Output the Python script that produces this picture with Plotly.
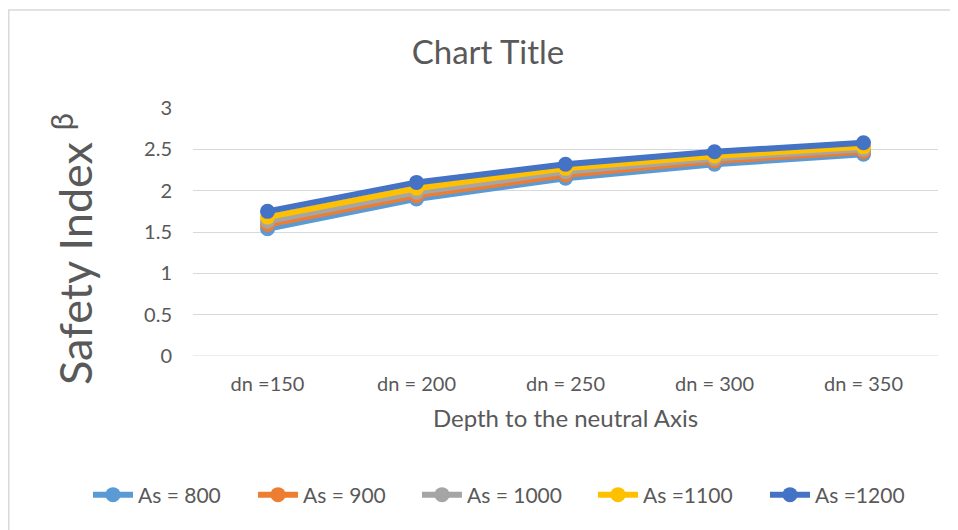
import plotly.graph_objects as go

# data
categories = ["dn =150", "dn = 200", "dn = 250", "dn = 300", "dn = 350"]
series_names = ["As = 800", "As = 900", "As = 1000", "As =1100", "As =1200"]
as_800 = [1.54, 1.90, 2.15, 2.32, 2.44]
as_900 = [1.59, 1.94, 2.19, 2.36, 2.47]
as_1000 = [1.63, 1.98, 2.23, 2.39, 2.50]
as_1100 = [1.68, 2.03, 2.27, 2.42, 2.53]
as_1200 = [1.75, 2.10, 2.32, 2.47, 2.58]
y_ticks = [0, 0.5, 1, 1.5, 2, 2.5, 3]

colors = ["#5B9BD5", "#ED7D31", "#A5A5A5", "#FFC000", "#4472C4"]
FONT = "Lato, 'Open Sans', sans-serif"
GREY = "#595959"

# page has an 8px body margin, so the figure is a bit smaller than the window
W, H = 950, 522
L, R, T, B = 185, 20, 100, 174
pw, ph = W - L - R, H - T - B

# one legend per series so each entry can sit where Excel put it
legend_ids = ["legend", "legend2", "legend3", "legend4", "legend5"]
legend_x = [80, 245, 409, 585, 757]

fig = go.Figure()
for name, vals, col, lid in zip(series_names, [as_800, as_900, as_1000, as_1100, as_1200], colors, legend_ids):
    fig.add_trace(go.Scatter(
        x=list(range(len(categories))), y=vals, name=name, mode="lines+markers",
        line=dict(color=col, width=6), marker=dict(color=col, size=15), legend=lid,
    ))

# light grey frame around the chart object
fig.add_shape(type="rect", xref="paper", yref="paper",
              x0=(0.75 - L) / pw, x1=(W + 20 - L) / pw,
              y0=-(B + 20) / ph, y1=(H - B - 2) / ph,
              line=dict(color="#D9D9D9", width=1.5), fillcolor="rgba(0,0,0,0)", layer="below")

# y axis title as an annotation so it can sit a little below the plot centre
fig.add_annotation(text="Safety Index <sup>β</sup>", textangle=-90,
                   xref="paper", yref="paper", x=(64 - L) / pw, y=(H - B - 241) / ph,
                   xanchor="center", yanchor="middle", showarrow=False,
                   font=dict(size=45, color=GREY, family=FONT))

fig.update_layout(
    width=W, height=H,
    margin=dict(l=L, r=R, t=T, b=B),
    paper_bgcolor="white", plot_bgcolor="white",
    font=dict(family=FONT, color=GREY),
    title=dict(text="Chart Title", x=480 / W, xanchor="center", y=1 - 44 / H, yanchor="middle",
               font=dict(size=33, color=GREY, family=FONT)),
    xaxis=dict(
        tickmode="array", tickvals=list(range(len(categories))), ticktext=categories,
        range=[-0.5, 4.5], showgrid=False, zeroline=False, showline=False, ticks="",
        tickfont=dict(size=20, color=GREY), ticklabelstandoff=14,
        title=dict(text="Depth to the neutral Axis", font=dict(size=24, color=GREY), standoff=16),
    ),
    yaxis=dict(
        range=[0, 3], tickvals=y_ticks, ticktext=[f"{v:g}" for v in y_ticks],
        showgrid=True, gridcolor="#D9D9D9", gridwidth=1, zeroline=False,
        showline=False, ticks="", tickfont=dict(size=20, color=GREY), ticklabelstandoff=20,
    ),
    showlegend=True,
)
for lid, lx in zip(legend_ids, legend_x):
    fig.update_layout({lid: dict(
        orientation="h", x=lx / W, xanchor="left", xref="container",
        y=1 - 487 / H, yanchor="middle", yref="container",
        font=dict(size=21, color=GREY), itemwidth=40, bgcolor="rgba(0,0,0,0)",
    )})

# bottom baseline at zero
fig.add_shape(type="line", xref="paper", yref="y", x0=0, x1=1, y0=0, y1=0,
              line=dict(color="#D9D9D9", width=1), layer="below")

fig.write_html("out.html")
